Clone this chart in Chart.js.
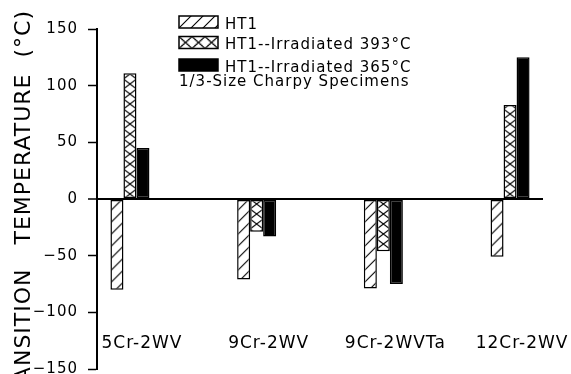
<!DOCTYPE html>
<html>
<head>
<meta charset="utf-8">
<script src="https://cdn.jsdelivr.net/npm/chart.js@4/dist/chart.umd.min.js"></script>
<style>
html,body{margin:0;padding:0;background:#fff;}
#wrap{position:relative;width:571px;height:374px;}
</style>
</head>
<body>
<div id="wrap"><canvas id="c"></canvas></div>
<script>
// ---- data ----
const categories = ['5Cr-2WV', '9Cr-2WV', '9Cr-2WVTa', '12Cr-2WV'];
const seriesLabels = ['HT1', 'HT1--Irradiated 393°C', 'HT1--Irradiated 365°C'];
const ht1 = [-80, -71, -79, -51];
const irradiated393 = [111, -29, -46, 83];
const irradiated365 = [45, -33, -75, 125];
const yTickMin = -150;
const yTickMax = 150;
const yTickStep = 50;
const noteText = '1/3-Size Charpy Specimens';
const yTitle = 'TRANSITION   TEMPERATURE  (°C)   ';

// ---- style ----
const FONT = "'DejaVu Sans', 'Liberation Sans', sans-serif";
const CAT_PCT = 0.308;
const SPACING = '1px';

function makeTile(kind) {
  const c = document.createElement('canvas');
  const g = c.getContext('2d');
  if (kind === 'diag') {
    c.width = 12; c.height = 12;
    g.fillStyle = '#fff'; g.fillRect(0, 0, 12, 12);
    g.strokeStyle = '#000'; g.lineWidth = 1.1;
    g.beginPath();
    g.moveTo(-1, 13); g.lineTo(13, -1);
    g.moveTo(-7, 7); g.lineTo(7, -7);
    g.moveTo(5, 19); g.lineTo(19, 5);
    g.stroke();
  } else {
    c.width = 13; c.height = 10;
    g.fillStyle = '#fff'; g.fillRect(0, 0, 13, 10);
    g.strokeStyle = '#000'; g.lineWidth = 1.1;
    g.beginPath();
    g.moveTo(-1.3, -1); g.lineTo(14.3, 11);
    g.moveTo(14.3, -1); g.lineTo(-1.3, 11);
    g.stroke();
  }
  return c;
}
const tiles = { diag: makeTile('diag'), cross: makeTile('cross') };

function patternAt(ctx, kind, left, top, sx, sy) {
  const p = ctx.createPattern(tiles[kind], 'repeat');
  if (p && p.setTransform) p.setTransform(new DOMMatrix([sx, 0, 0, sy, left, top]));
  return p;
}

function barFill(kind, k) {
  return (c) => {
    const chart = c.chart;
    const xs = chart.scales.x, ys = chart.scales.y;
    if (c.type !== 'data' || !xs || !ys || !(xs.width > 0)) return '#fff';
    const step = xs.getPixelForValue(1) - xs.getPixelForValue(0);
    const w = step * CAT_PCT / 3;
    const center = xs.getPixelForValue(c.dataIndex);
    const left = center - 1.5 * w + k * w;
    const sx = kind === 'cross' ? w / 13 : 1;
    return patternAt(chart.ctx, kind, left, ys.getPixelForValue(0), sx, 1);
  };
}

const spacingPlugin = {
  id: 'spacing',
  beforeUpdate(chart) { chart.ctx.letterSpacing = SPACING; },
  beforeDraw(chart) { chart.ctx.letterSpacing = SPACING; }
};

const legendPlugin = {
  id: 'customLegend',
  afterDraw(chart) {
    const ctx = chart.ctx;
    const a = chart.chartArea;
    const x0 = a.left + 82;
    const sw = 39, sh = 12;
    const tops = [16, 36.5, 59];
    const kinds = ['diag', 'cross', 'solid'];
    ctx.save();
    ctx.letterSpacing = SPACING;
    ctx.font = '15px ' + FONT;
    ctx.fillStyle = '#000';
    ctx.textBaseline = 'alphabetic';
    ctx.textAlign = 'left';
    for (let i = 0; i < 3; i++) {
      const t = tops[i];
      if (kinds[i] === 'solid') {
        ctx.fillStyle = '#000';
      } else {
        ctx.fillStyle = patternAt(ctx, kinds[i], x0, t, 1, kinds[i] === 'cross' ? 1.2 : 1);
      }
      ctx.fillRect(x0, t, sw, sh);
      ctx.lineWidth = 1.5;
      ctx.strokeStyle = '#000';
      ctx.strokeRect(x0, t, sw, sh);
      ctx.fillStyle = '#000';
      ctx.fillText(chart.data.datasets[i].label, x0 + 46, t + 12.5);
    }
    ctx.fillText(noteText, x0, 86);
    ctx.restore();
  }
};

const common = { borderColor: '#000', borderWidth: 1.5, borderSkipped: false, categoryPercentage: CAT_PCT, barPercentage: 1 };

new Chart(document.getElementById('c'), {
  type: 'bar',
  data: {
    datasets: [
      Object.assign({ label: seriesLabels[0], data: ht1.map((y, i) => ({ x: i, y })), backgroundColor: barFill('diag', 0) }, common),
      Object.assign({ label: seriesLabels[1], data: irradiated393.map((y, i) => ({ x: i, y })), backgroundColor: barFill('cross', 1) }, common),
      Object.assign({ label: seriesLabels[2], data: irradiated365.map((y, i) => ({ x: i, y })), backgroundColor: '#000' }, common)
    ]
  },
  options: {
    responsive: true,
    maintainAspectRatio: false,
    animation: false,
    layout: { padding: { top: 29, bottom: 5, left: 0, right: 28 } },
    plugins: { legend: { display: false }, tooltip: { enabled: false }, title: { display: false } },
    scales: {
      x: {
        type: 'linear',
        min: -0.26,
        max: 3.26,
        offset: false,
        position: { y: -119 },
        grid: { display: false, drawTicks: false },
        border: { display: false },
        afterBuildTicks: (s) => { s.ticks = categories.map((_, i) => ({ value: i })); },
        afterFit: (s) => { s.paddingLeft = 0; s.paddingRight = 0; },
        ticks: {
          autoSkip: false, maxRotation: 0, minRotation: 0, padding: 0, labelOffset: 12,
          color: '#000', font: { family: FONT, size: 17 },
          callback: (v) => (categories[v] !== undefined ? categories[v] : '')
        }
      },
      y: {
        min: yTickMin,
        max: yTickMax,
        position: 'left',
        ticks: {
          stepSize: yTickStep, padding: 10, color: '#000', font: { family: FONT, size: 15 },
          callback: (v) => (v < 0 ? '\u2212' + Math.abs(v) : String(v))
        },
        grid: {
          color: (c) => (c.tick && c.tick.value === 0 ? '#000' : 'rgba(0,0,0,0)'),
          lineWidth: (c) => (c.tick && c.tick.value === 0 ? 2 : 1),
          tickColor: '#000', tickWidth: 1.5, tickLength: 9, drawTicks: true
        },
        border: { display: true, color: '#000', width: 2 },
        title: {
          display: true, text: yTitle, color: '#000',
          font: { family: FONT, size: 22 }, padding: { top: 11, bottom: 0 }
        },
        afterFit: (s) => { s.width = 97; s.paddingTop = 0; s.paddingBottom = 0; }
      }
    }
  },
  plugins: [spacingPlugin, legendPlugin]
});
</script>
</body>
</html>
